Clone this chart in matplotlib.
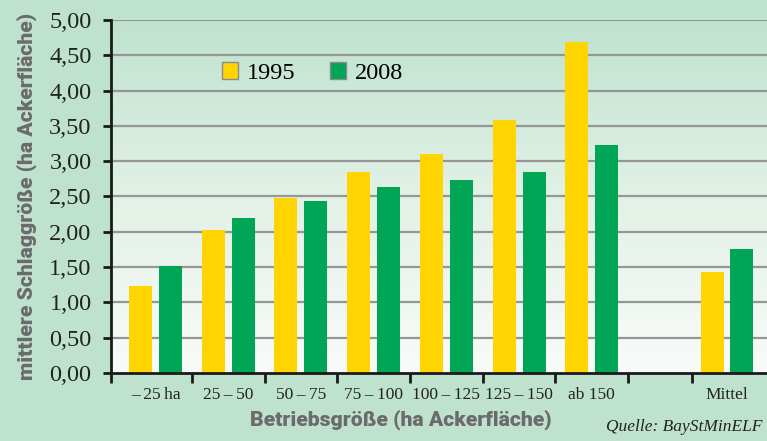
import numpy as np
import matplotlib
matplotlib.use('Agg')
import matplotlib.pyplot as plt
from matplotlib.patches import Patch
from matplotlib.colors import LinearSegmentedColormap

ts = '\u2009'
categories = ['–' + ts + '25' + ts + 'ha', '25' + ts + '–' + ts + '50',
              '50' + ts + '–' + ts + '75', '75' + ts + '–' + ts + '100',
              '100' + ts + '–' + ts + '125', '125' + ts + '–' + ts + '150',
              'ab 150', 'Mittel']
positions = [0, 1, 2, 3, 4, 5, 6, 7.86]
boundaries = [-0.612, 0.5, 1.5, 2.5, 3.5, 4.5, 5.5, 6.5, 7.38]
values_1995 = [1.23, 2.02, 2.48, 2.84, 3.10, 3.59, 4.69, 1.43]
values_2008 = [1.51, 2.19, 2.43, 2.64, 2.74, 2.84, 3.23, 1.75]
y_ticks = [0, 0.5, 1, 1.5, 2, 2.5, 3, 3.5, 4, 4.5, 5]

yellow = '#ffd400'
green = '#00a555'
mint = '#bfe2cf'
serif = ['Liberation Serif', 'DejaVu Serif']
narrow = ['Roboto', 'DejaVu Sans']

fig = plt.figure(figsize=(7.67, 4.41), dpi=100, facecolor=mint)
ax = fig.add_axes([111 / 767, 68 / 441, 656 / 767, 353 / 441])
xmin, xmax = -0.612, 8.41

# background gradient of the plot area
grad = np.linspace(0, 1, 256).reshape(-1, 1)
cmap = LinearSegmentedColormap.from_list('bg', ['#f9fbf9', '#e2f1e6', '#bfe2cf'])
ax.imshow(grad, cmap=cmap, aspect='auto', extent=[xmin, xmax, 0, 5],
          origin='lower', zorder=0)

for y in y_ticks[1:]:
    ax.axhline(y, color='#969696', lw=1.6, zorder=1)

x = np.array(positions)
ax.bar(x - 0.206, values_1995, width=0.316, color=yellow, zorder=2)
ax.bar(x + 0.206, values_2008, width=0.316, color=green, zorder=2)

ax.set_xlim(xmin, xmax)
ax.set_ylim(0, 5)
ax.set_facecolor('none')
for s in ['top', 'right']:
    ax.spines[s].set_visible(False)
for s in ['left', 'bottom']:
    ax.spines[s].set_linewidth(2)
    ax.spines[s].set_color('#1a1a1a')
    ax.spines[s].set_zorder(3)

ax.set_yticks(y_ticks)
ax.set_yticklabels([f'{v:.2f}'.replace('.', ',') for v in y_ticks],
                   fontfamily=serif, fontsize=17.5, color='#222222')
ax.tick_params(axis='y', length=6, width=2, color='#1a1a1a', pad=8)

ax.set_xticks(boundaries)
ax.set_xticklabels([])
ax.tick_params(axis='x', which='major', length=7, width=2, color='#1a1a1a')
ax.set_xticks(positions, minor=True)
ax.set_xticklabels(categories, minor=True, fontfamily=serif, fontsize=12.5,
                   color='#222222')
ax.tick_params(axis='x', which='minor', length=0, pad=10)

handles = [Patch(facecolor=yellow, edgecolor='#8a8a8a', label='1995'),
           Patch(facecolor=green, edgecolor='#8a8a8a', label='2008')]
ax.legend(handles=handles, loc='center left', bbox_to_anchor=(0.169, 0.85),
          ncol=2, frameon=False, borderpad=0, borderaxespad=0,
          handlelength=0.68, handleheight=0.68, handletextpad=0.35,
          columnspacing=1.4, prop={'family': serif, 'size': 17.5})

fig.text(27 / 767, 1 - 196 / 441, 'mittlere Schlaggröße (ha Ackerfläche)',
         rotation=90, ha='center', va='center', fontsize=15.2,
         fontweight='black', color='#6b6b6b', family=narrow)
fig.text(401 / 767, 1 - 420 / 441, 'Betriebsgröße (ha Ackerfläche)',
         ha='center', va='center', fontsize=15.2, fontweight='black',
         color='#6b6b6b', family=narrow)
fig.text(606 / 767, 1 - 427 / 441, 'Quelle: BayStMinELF', ha='left',
         va='center', fontsize=12.5, style='italic', family=serif,
         color='#222222')

fig.savefig('out.png', dpi=100, facecolor=mint)
